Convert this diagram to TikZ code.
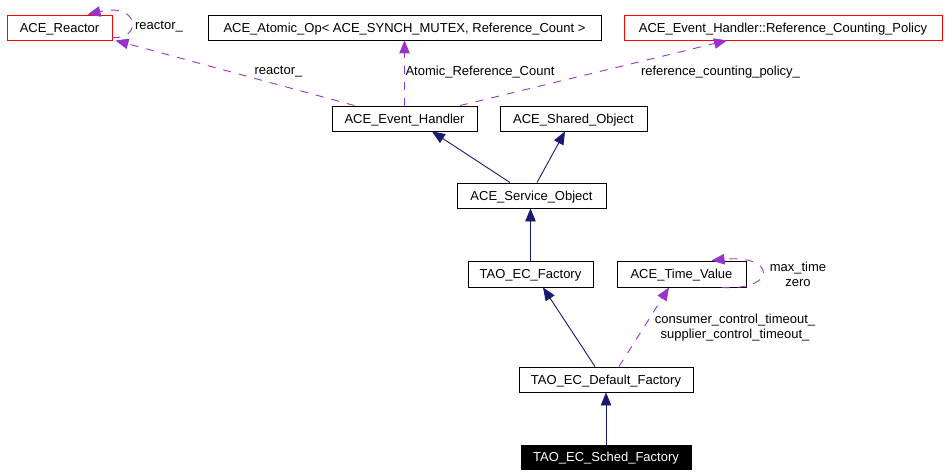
\documentclass[tikz,border=0pt]{standalone}
\usepackage{fontspec}
\setmainfont{Liberation Sans}
\usetikzlibrary{arrows.meta}
\definecolor{inhcol}{HTML}{191970}
\definecolor{usecol}{HTML}{9A32CD}
\begin{document}
\begin{tikzpicture}[
    x=1pt, y=-1pt,
    cls/.style={rectangle, minimum height=25pt, inner sep=0pt, text height=9.3pt, text depth=0pt, text centered, draw=black, line width=0.9pt, font=\fontsize{13}{15}\selectfont},
    undoc/.style={cls, draw=red},
    self/.style={cls, fill=black, text=white},
    lbl/.style={inner sep=0pt, align=center, font=\fontsize{13}{15}\selectfont},
    inh/.style={-{Triangle[length=13pt,width=10.5pt,fill=inhcol]}, draw=inhcol, line width=0.9pt},
    use/.style={-{Triangle[length=13pt,width=10.5pt,fill=usecol]}, draw=usecol, line width=0.9pt, dash pattern=on 8pt off 8pt}
  ]
    \useasboundingbox (0,0) rectangle (952,476);

    \node[undoc, minimum width=105pt] (reactor) at (59.5, 27.5) {ACE\_Reactor};
    \node[cls, minimum width=393pt] (atomic) at (404.5, 27.5) {ACE\_Atomic\_Op< ACE\_SYNCH\_MUTEX, Reference\_Count >};
    \node[undoc, minimum width=318pt] (policy) at (783, 27.5) {ACE\_Event\_Handler::Reference\_Counting\_Policy};
    \node[cls, minimum width=145pt] (handler) at (404.5, 118.5) {ACE\_Event\_Handler};
    \node[cls, minimum width=147pt] (shared) at (573.5, 118.5) {ACE\_Shared\_Object};
    \node[cls, minimum width=149pt] (service) at (531.5, 195.5) {ACE\_Service\_Object};
    \node[cls, minimum width=125pt, minimum height=26pt] (factory) at (530.5, 274) {TAO\_EC\_Factory};
    \node[cls, minimum width=129pt, minimum height=26pt] (timeval) at (681.5, 274) {ACE\_Time\_Value};
    \node[cls, minimum width=174pt] (deffactory) at (606, 379.5) {TAO\_EC\_Default\_Factory};
    \node[self, minimum width=170pt, minimum height=24pt] (schedfactory) at (606, 457) {TAO\_EC\_Sched\_Factory};

    \node[lbl] (lreactorself) at (159, 27) {reactor\_};
    \node[lbl] (lreactor) at (278.5, 72) {reactor\_};
    \node[lbl] (latomic) at (480, 72) {Atomic\_Reference\_Count};
    \node[lbl] (lpolicy) at (720.5, 72) {reference\_counting\_policy\_};
    \node[lbl] (ltime) at (798, 274) {max\_time\\zero};
    \node[lbl] (ltimeout) at (735, 327.5) {consumer\_control\_timeout\_\\supplier\_control\_timeout\_};

    \draw[use] ([yshift=-10pt]reactor.east) .. controls (142, 40) and (140, 2) .. ([xshift=28pt]reactor.north);
    \draw[use] ([xshift=-50pt]handler.north) -- ([xshift=3pt]reactor.south east);
    \draw[use] (handler.north) -- (atomic.south);
    \draw[use] ([xshift=55.5pt]handler.north) -- ([xshift=-56pt]policy.south);
    \draw[inh] ([xshift=-21.5pt]service.north) -- ([xshift=27.5pt]handler.south);
    \draw[inh] ([xshift=5.5pt]service.north) -- ([xshift=-8.5pt]shared.south);
    \draw[inh] (factory.north) -- (factory.north |- service.south);
    \draw[use] ([xshift=40pt]timeval.south) .. controls (778, 291) and (776, 254) .. ([xshift=30pt]timeval.north);
    \draw[inh] ([xshift=-11pt]deffactory.north) -- ([xshift=12.5pt]factory.south);
    \draw[use] ([xshift=13pt]deffactory.north) -- ([xshift=-12.5pt]timeval.south);
    \draw[inh] (schedfactory.north) -- (deffactory.south);


  \end{tikzpicture}
\end{document}
